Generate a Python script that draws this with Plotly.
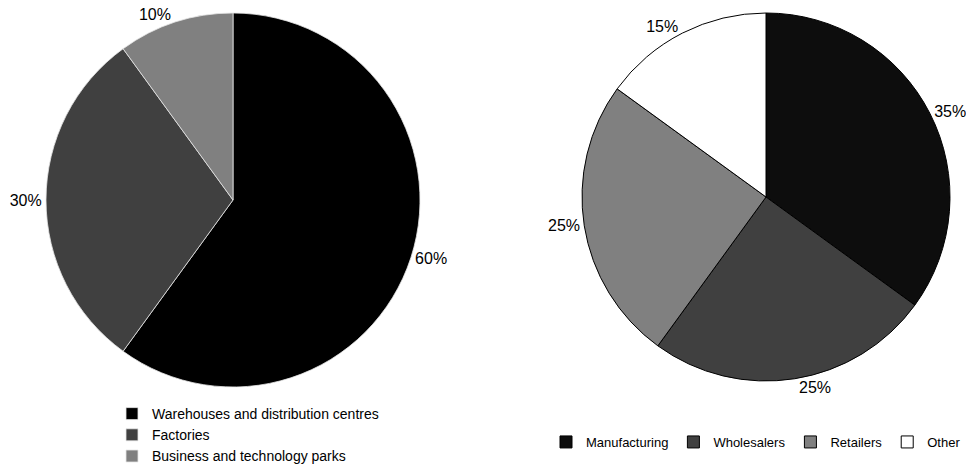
import plotly.graph_objects as go

W, H = 966, 468

# Property type split
left_labels = ["Warehouses and distribution centres", "Factories", "Business and technology parks"]
left_values = [60, 30, 10]
left_colors = ["#000000", "#404040", "#808080"]

# Occupier split
right_labels = ["Manufacturing", "Wholesalers", "Retailers", "Other"]
right_values = [35, 25, 25, 15]
right_colors = ["#0d0d0d", "#404040", "#808080", "#ffffff"]

FONT = "Liberation Sans, Arial, sans-serif"


def xd(a, b):
    return [a / W, b / W]


def yd(top, bottom):
    return [1 - bottom / H, 1 - top / H]


fig = go.Figure()

fig.add_trace(go.Pie(
    labels=left_labels, values=left_values,
    marker=dict(colors=left_colors, line=dict(color="#e6e6e6", width=0.8)),
    sort=False, direction="clockwise", rotation=0,
    texttemplate="%{value}%",
    textposition="outside", textfont=dict(size=16, color="#000000", family=FONT),
    domain=dict(x=xd(46, 420), y=yd(13, 387)),
    legend="legend", hoverinfo="label+percent",
))

fig.add_trace(go.Pie(
    labels=right_labels, values=right_values,
    marker=dict(colors=right_colors, line=dict(color="#000000", width=1)),
    sort=False, direction="clockwise", rotation=0,
    texttemplate="%{value}%",
    textposition="outside", textfont=dict(size=16, color="#000000", family=FONT),
    domain=dict(x=xd(582, 950), y=yd(13, 381)),
    legend="legend2", hoverinfo="label+percent",
))

fig.update_layout(
    width=W, height=H,
    margin=dict(l=0, r=0, t=0, b=0, autoexpand=False),
    paper_bgcolor="#ffffff", plot_bgcolor="#ffffff",
    font=dict(family=FONT, size=13, color="#000000"),
    showlegend=True,
    legend=dict(
        x=112 / W, y=1 - 398 / H, xanchor="left", yanchor="top",
        orientation="v", font=dict(size=14), bgcolor="rgba(0,0,0,0)",
        itemclick=False, itemdoubleclick=False,
    ),
    legend2=dict(
        x=546 / W, y=1 - 427 / H, xanchor="left", yanchor="top",
        orientation="h", font=dict(size=13), bgcolor="rgba(0,0,0,0)",
        itemclick=False, itemdoubleclick=False,
    ),
)

fig.write_html("out.html")
